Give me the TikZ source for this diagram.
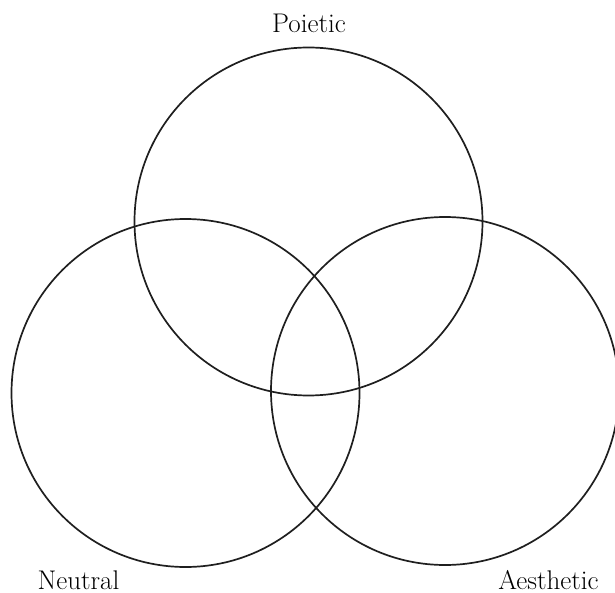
\documentclass[tikz,border=0pt]{standalone}
\usepackage{tikz}
\usetikzlibrary{positioning}

\begin{document}
\begin{tikzpicture}[x=1pt, y=-1pt,
  ring/.style={circle, draw=black!88, line width=1.7pt, minimum size=348pt, inner sep=0pt},
  lab/.style={anchor=base, inner sep=0pt, font=\fontsize{27}{32}\selectfont}]
\useasboundingbox (0,0) rectangle (615,593);
\clip (0,0) rectangle (615,593);
% the three circles
\node[ring] (poi) at (308.5,221.5) {};
\node[ring] (neu) at (185.5,393) {};
\node[ring] (aes) at (445,391) {};
% labels
\node[lab] (poilab) at (309,33) {Poietic};
\node[lab] (neulab) at (78.5,589) {Neutral};
\node[lab] (aeslab) at (548.5,589) {Aesthetic};
\end{tikzpicture}
\end{document}
